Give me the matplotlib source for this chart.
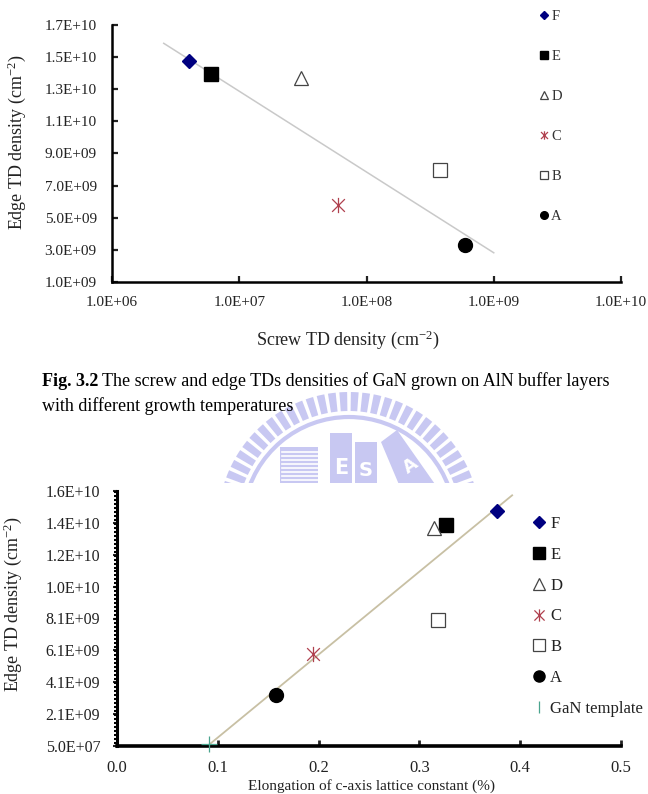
import numpy as np
import matplotlib
matplotlib.use("Agg")
import matplotlib.pyplot as plt
import matplotlib.patches as patches
from matplotlib.path import Path
from matplotlib.lines import Line2D
from matplotlib.ticker import NullLocator, MultipleLocator

plt.rcParams['font.family'] = ['Liberation Serif', 'DejaVu Serif']
plt.rcParams['mathtext.fontset'] = 'custom'
plt.rcParams['mathtext.rm'] = 'Liberation Serif'
plt.rcParams['mathtext.it'] = 'Liberation Serif:italic'

# ---- data ----
samples = ['F', 'E', 'D', 'C', 'B', 'A']
screw_td = [4.05e6, 5.95e6, 3.05e7, 5.95e7, 3.75e8, 5.9e8]
edge_td = [1.478e10, 1.392e10, 1.372e10, 5.82e9, 7.96e9, 3.28e9]
elongation = [0.377, 0.3265, 0.314, 0.1944, 0.318, 0.158]
template_elong = [0.0917]
template_edge = [2.0e8]

# trend lines as drawn in the figures
trend1_screw = [2.55e6, 1.0e9]
trend1_edge = [1.586e10, 2.82e9]
trend2_elong = [0.0917, 0.392]
trend2_edge = [1.5e8, 1.578e10]

top_xticks = [1e6, 1e7, 1e8, 1e9, 1e10]
top_xlabels = ['1.0E+06', '1.0E+07', '1.0E+08', '1.0E+09', '1.0E+10']
top_yticks = [1e9, 3e9, 5e9, 7e9, 9e9, 1.1e10, 1.3e10, 1.5e10, 1.7e10]
top_ylabels = ['1.0E+09', '3.0E+09', '5.0E+09', '7.0E+09', '9.0E+09',
               '1.1E+10', '1.3E+10', '1.5E+10', '1.7E+10']
bot_xticks = [0.0, 0.1, 0.2, 0.3, 0.4, 0.5]
bot_xlabels = ['0.0', '0.1', '0.2', '0.3', '0.4', '0.5']
bot_yticks = [5e7, 2.05e9, 4.05e9, 6.05e9, 8.05e9, 1.005e10, 1.205e10, 1.405e10, 1.605e10]
bot_ylabels = ['5.0E+07', '2.1E+09', '4.1E+09', '6.1E+09', '8.1E+09',
               '1.0E+10', '1.2E+10', '1.4E+10', '1.6E+10']

W, H = 648, 794


def fx(px):
    return px / W


def fy(py):
    return 1 - py / H


ast = Path([(-1, -1), (1, 1), (-1, 1), (1, -1), (0, -1.2), (0, 1.2)],
           [Path.MOVETO, Path.LINETO] * 3)

styles = {
    'F': dict(marker='D', mfc='#000080', mec='#000080', ms=7.6, mew=1),
    'E': dict(marker='s', mfc='black', mec='black', ms=10, mew=1),
    'D': dict(marker='^', mfc='white', mec='#444444', ms=10, mew=0.9),
    'C': dict(marker=ast, mfc='none', mec='#b0404e', ms=11, mew=0.9),
    'B': dict(marker='s', mfc='white', mec='#444444', ms=10, mew=0.9),
    'A': dict(marker='o', mfc='black', mec='black', ms=10, mew=1),
}

fig = plt.figure(figsize=(W / 100, H / 100), dpi=100)

# ---- watermark (behind everything) ----
bg = fig.add_axes([0, 0, 1, 1], zorder=-5)
bg.set_xlim(0, W)
bg.set_ylim(H, 0)
bg.axis('off')
lav = '#c8c8f2'
clip = patches.Rectangle((0, 0), W, 483, transform=bg.transData)
cx, cy = 349, 523
wm = []
for ang in np.linspace(-168, -12, 32):
    wm.append(patches.Wedge((cx, cy), 131, ang - 1.7, ang + 1.7, width=19, color=lav, lw=0))
wm.append(patches.Arc((cx, cy), 2 * 106, 2 * 106, theta1=-170, theta2=-10, color=lav, lw=3))
wm.append(patches.Rectangle((280, 447), 38, 40, color=lav, lw=0))
wm.append(patches.Rectangle((330, 433), 22, 55, color=lav, lw=0))
wm.append(patches.Rectangle((355, 442), 22, 45, color=lav, lw=0))
wm.append(patches.Polygon([(381, 442), (397, 430), (437, 487), (400, 487)], closed=True, color=lav, lw=0))
for p in wm:
    bg.add_patch(p)
    p.set_clip_path(clip)
for k in range(9):
    ln, = bg.plot([282, 318], [452 + 4 * k, 452 + 4 * k], color='white', lw=1.2)
    ln.set_clip_path(clip)
bg.text(341, 468, 'E', color='white', fontsize=15, fontweight='bold', family='DejaVu Sans',
        ha='center', va='center', clip_on=True)
bg.text(366, 470, 'S', color='white', fontsize=14, fontweight='bold', family='DejaVu Sans',
        ha='center', va='center')
bg.text(411, 466, 'A', color='white', fontsize=13, fontweight='bold', family='DejaVu Sans',
        ha='center', va='center', rotation=35)

# ---- top chart ----
ax1 = fig.add_axes([fx(112), fy(282), fx(621) - fx(112), fy(25) - fy(282)])
ax1.set_xscale('log')
ax1.plot(trend1_screw, trend1_edge, color='#c9c9c9', lw=1.1, zorder=1)
for s, x, y in zip(samples, screw_td, edge_td):
    ax1.plot([x], [y], ls='none', zorder=3, clip_on=False, **styles[s])
ax1.set_xlim(1e6, 1e10)
ax1.set_ylim(1e9, 1.7e10)
ax1.set_xticks(top_xticks)
ax1.set_xticklabels(top_xlabels)
ax1.xaxis.set_minor_locator(NullLocator())
ax1.set_yticks(top_yticks)
ax1.set_yticklabels(top_ylabels)
for sp in ['top', 'right']:
    ax1.spines[sp].set_visible(False)
for sp in ['left', 'bottom']:
    ax1.spines[sp].set_linewidth(1.8)
ax1.tick_params(axis='x', direction='in', length=4, width=1.6, pad=10, labelsize=11, colors='#222222')
ax1.tick_params(axis='y', direction='in', length=4, width=1.6, pad=11, labelsize=11, colors='#222222')
ax1.patch.set_alpha(0)

h1 = [Line2D([], [], ls='none', **styles[s]) for s in samples]
ax1.legend(h1, samples, loc='upper left', bbox_to_anchor=(fx(538), fy(10)),
           bbox_transform=fig.transFigure, frameon=False, fontsize=10.5, markerscale=0.55,
           handlelength=0.8, handletextpad=0.1, labelspacing=1.84, borderpad=0,
           borderaxespad=0, labelcolor='#333333')

fig.text(fx(17), fy(142), r'Edge TD density (cm$^{-2}$)', rotation=90, ha='center', va='center',
         fontsize=13, color='#222222')
fig.text(fx(348), fy(340), r'Screw TD density (cm$^{-2}$)', ha='center', va='center',
         fontsize=13, color='#222222')

# ---- caption ----
t1 = fig.text(fx(42), fy(386), 'Fig. 3.2', fontsize=13, fontweight='bold', va='baseline')
fig.canvas.draw()
bb = t1.get_window_extent()
fig.text(bb.x1 / W + 4 / W, fy(386),
         'The screw and edge TDs densities of GaN grown on AlN buffer layers',
         fontsize=13, va='baseline')
fig.text(fx(42), fy(411), 'with different growth temperatures', fontsize=13, va='baseline')

# ---- bottom chart ----
ax2 = fig.add_axes([fx(117), fy(746), fx(621) - fx(117), fy(491) - fy(746)])
ax2.plot(trend2_elong, trend2_edge, color='#c8c0a4', lw=1.3, zorder=1)
for s, x, y in zip(samples, elongation, edge_td):
    ax2.plot([x], [y], ls='none', zorder=3, clip_on=False, **styles[s])
tmpl = dict(marker='+', color='#4aa48e', ms=12, mew=0.9)
ax2.plot(template_elong, template_edge, ls='none', zorder=3, clip_on=False, **tmpl)
ax2.set_xlim(0, 0.5)
ax2.set_ylim(5e7, 1.605e10)
ax2.set_xticks(bot_xticks)
ax2.set_xticklabels(bot_xlabels)
ax2.set_yticks(bot_yticks)
ax2.set_yticklabels(bot_ylabels)
ax2.yaxis.set_minor_locator(MultipleLocator(2e9 / 8))
for sp in ['top', 'right']:
    ax2.spines[sp].set_visible(False)
ax2.spines['left'].set_linewidth(2.2)
ax2.spines['bottom'].set_linewidth(2.6)
ax2.tick_params(axis='x', direction='in', length=4, width=2, pad=10, labelsize=12, colors='#222222')
ax2.tick_params(axis='y', which='major', direction='out', length=3, width=1.5, pad=9,
                labelsize=11.5, colors='#222222')
ax2.tick_params(axis='y', which='minor', direction='out', length=2, width=1.5)
ax2.patch.set_alpha(0)

h2 = [Line2D([], [], ls='none', **styles[s]) for s in samples]
h2.append(Line2D([], [], ls='none', marker='|', color='#4aa48e', ms=10, mew=0.9))
ax2.legend(h2, samples + ['GaN template'], loc='upper left', bbox_to_anchor=(fx(532), fy(516)),
           bbox_transform=fig.transFigure, frameon=False, fontsize=12, markerscale=0.8,
           handlelength=0.8, handletextpad=0.3, labelspacing=0.89, borderpad=0,
           borderaxespad=0, labelcolor='#222222')

fig.text(fx(13), fy(604), r'Edge TD density (cm$^{-2}$)', rotation=90, ha='center', va='center',
         fontsize=13, color='#222222')
fig.text(fx(371), fy(793), 'Elongation of c-axis lattice constant (%)', ha='center', va='bottom',
         fontsize=11, color='#222222')

fig.savefig('out.png', dpi=100)
